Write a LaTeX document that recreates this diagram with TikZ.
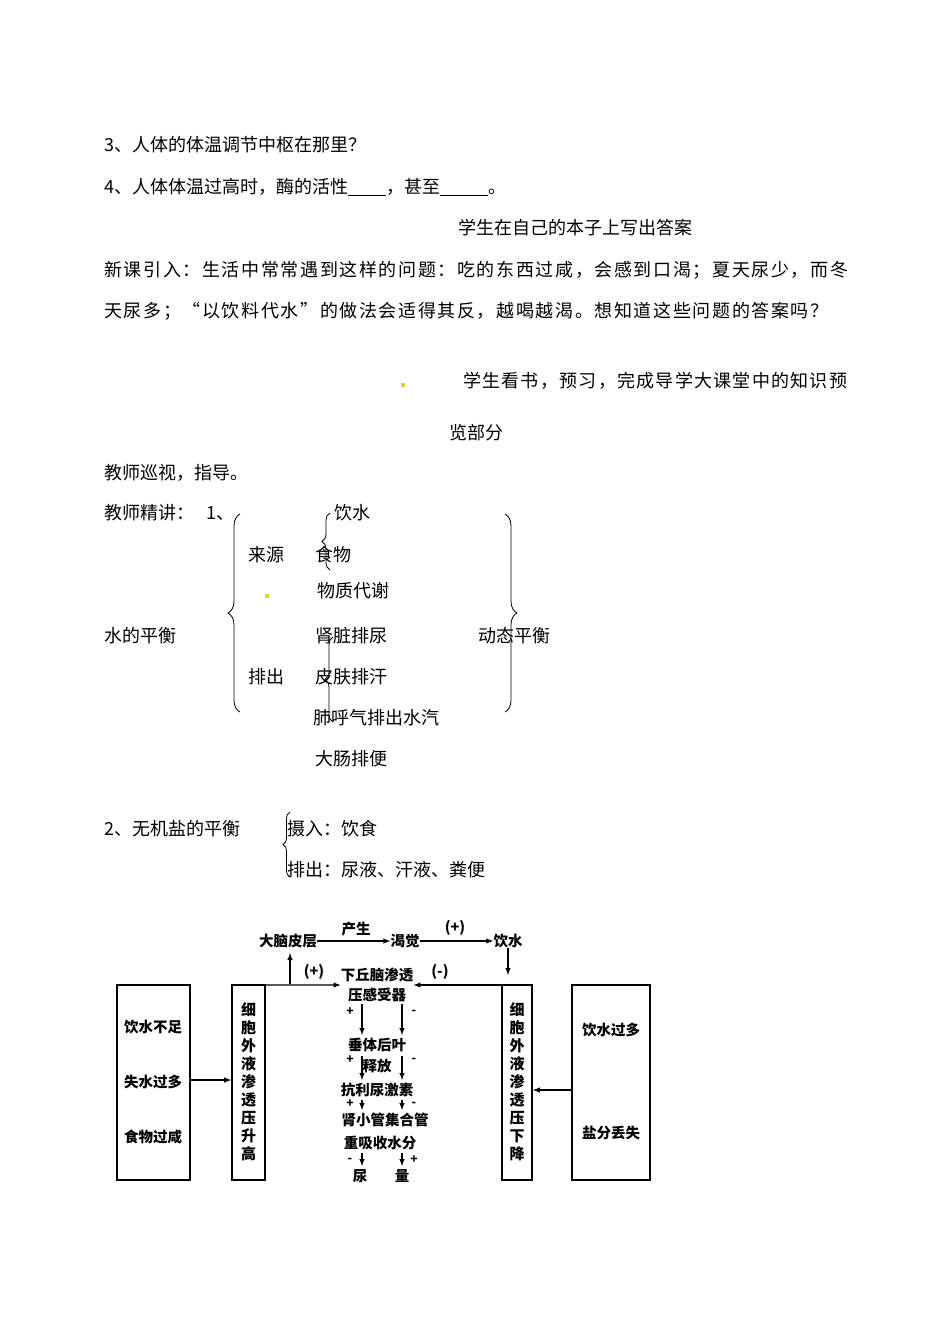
\documentclass[tikz,border=0pt]{standalone}
\usepackage{fontspec}
\setmainfont{Noto Sans CJK SC}
\usetikzlibrary{decorations.pathreplacing}
\begin{document}
\begin{tikzpicture}[x=1pt,y=-1pt,
  t/.style={anchor=west,inner sep=0,font=\fontsize{18}{18}\selectfont},
  d/.style={inner sep=0,font=\fontsize{14.5}{14.5}\selectfont\bfseries},
  sg/.style={inner sep=0,font=\fontsize{12}{12}\selectfont\bfseries},
  vt/.style={inner sep=0,font=\fontsize{15}{18}\selectfont\bfseries,align=center},
  bx/.style={draw,line width=1.6pt},
  ar/.style={-latex,line width=1.4pt},
  br/.style={decorate,decoration={brace,amplitude=#1},line width=0.8pt}]
\useasboundingbox (0,0) rectangle (950,1342);
\fill[white] (0,0) rectangle (950,1342);
\node[t] (l1) at (104,145) {3、人体的体温调节中枢在那里？};
\node[t] (l2) at (104,187) {4、人体体温过高时，酶的活性\underline{\hspace{38pt}}，甚至\underline{\hspace{48pt}}。};
\node[t] (l3) at (458,228) {学生在自己的本子上写出答案};
\node[t] (l4) at (104,270) {\addfontfeature{LetterSpace=9}新课引入：生活中常常遇到这样的问题：吃的东西过咸，会感到口渴；夏天尿少，而冬};
\node[t] (l5) at (104,311) {\addfontfeature{LetterSpace=9}天尿多；“以饮料代水”的做法会适得其反，越喝越渴。想知道这些问题的答案吗？};
\fill[yellow!60!brown] (401,383) rectangle (405,387);
\node[t] (l6) at (463,381) {\addfontfeature{LetterSpace=7}学生看书，预习，完成导学大课堂中的知识预};
\node[t] (l7) at (449,433) {览部分};
\node[t] (l8) at (104,473) {教师巡视，指导。};
\node[t] (l9) at (104,513) {教师精讲：\hspace{12pt}1、};
\node[t] (a1) at (334,513) {饮水};
\node[t] (a2) at (248,555) {来源};
\node[t] (a3) at (315,555) {食物};
\fill[yellow!60!brown] (265,594) rectangle (269,598);
\node[t] (a4) at (317,591) {物质代谢};
\node[t] (a5) at (104,636) {水的平衡};
\node[t] (a6) at (315,636) {肾脏排尿};
\node[t] (a7) at (478,636) {动态平衡};
\node[t] (a8) at (248,677) {排出};
\node[t] (a9) at (315,677) {皮肤排汗};
\node[t] (a10) at (313,718) {肺呼气排出水汽};
\node[t] (a11) at (315,759) {大肠排便};
\draw[br=12pt] (240,712) -- (240,514);
\draw[br=12pt] (505,514) -- (505,712);
\draw[br=8pt] (330,570) -- (330,513);
\draw[br=8pt] (333,722) -- (333,637);
\node[t] (b1) at (104,829) {2、无机盐的平衡};
\draw[br=7pt] (290,877) -- (290,812);
\node[t] (b2) at (287,829) {摄入：饮食};
\node[t] (b3) at (287,870) {排出：尿液、汗液、粪便};
% diagram
\node[d] (dn) at (288,941) {大脑皮层};
\node[d] (kj) at (405,941) {渴觉};
\node[d] (ys) at (508,941) {饮水};
\node[d] (cs) at (356,929) {产生};
\node[d] (p1) at (455,928) {(+)};
\draw[ar] (dn) -- (kj);
\draw[ar] (kj) -- (ys);
\node[d] (xq) at (377,975) {下丘脑渗透};
\node[d] (yg) at (377,995) {压感受器};
\node[d] (p2) at (314,972) {(+)};
\node[d] (m2) at (440,972) {(-)};
\node[bx,minimum width=73pt,minimum height=195pt] (L) at (153.5,1082.5) {};
\node[d] (L1) at (153,1027) {饮水不足};
\node[d] (L2) at (153,1082) {失水过多};
\node[d] (L3) at (153,1137) {食物过咸};
\node[bx,minimum width=33pt,minimum height=195pt] (B2) at (248.5,1082.5) {};
\node[vt] (B2t) at (248.5,1082) {细\\胞\\外\\液\\渗\\透\\压\\升\\高};
\node[bx,minimum width=30pt,minimum height=195pt] (B3) at (517,1082.5) {};
\node[vt] (B3t) at (517,1082) {细\\胞\\外\\液\\渗\\透\\压\\下\\降};
\node[bx,minimum width=78pt,minimum height=195pt] (R) at (611,1082.5) {};
\node[d] (R1) at (611,1030) {饮水过多};
\node[d] (R2) at (611,1133) {盐分丢失};
\draw[ar] (L.east |- 0,1080) -- (B2.west |- 0,1080);
\draw[ar] (R.west |- 0,1090) -- (B3.east |- 0,1090);
\coordinate (c1) at (248,985);
\coordinate (c2) at (517,985);
\draw[ar] (B2.north) -- (c1) -- (xq.west |- 0,985) ;
\draw[ar] (B3.north) -- (c2) -- (xq.east |- 0,985);
\draw[ar] (290,984) -- (290,953);
\draw[ar] (ys.south) -- (508,975);
\node[d] (cy) at (377,1045) {垂体后叶};
\node[d] (sf) at (377,1066) {释放};
\node[d] (kl) at (377,1090) {抗利尿激素};
\node[d] (sx) at (385,1120) {肾小管集合管};
\node[d] (zx) at (380,1143) {重吸收水分};
\node[d] (ni) at (360,1176) {尿};
\node[d] (lg) at (402,1176) {量};
\foreach \y/\z in {1004/1035,1056/1080,1100/1110,1153/1166}{
 \draw[ar] (362,\y) -- (362,\z); \draw[ar] (402,\y) -- (402,\z);}
\foreach \y/\a/\b in {1012/+/-,1060/+/-,1104/+/-,1160/-/+}{
 \node[sg] at (350,\y) {\a}; \node[sg] at (414,\y) {\b};}
\end{tikzpicture}
\end{document}
